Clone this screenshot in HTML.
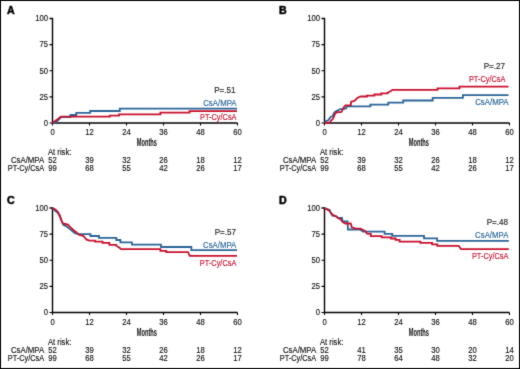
<!DOCTYPE html>
<html><head><meta charset="utf-8"><style>
html,body{margin:0;padding:0;background:#fff;}
body{width:520px;height:369px;overflow:hidden;}
svg{display:block;}
text{font-family:"Liberation Sans",sans-serif;}
</style></head><body>
<svg width="520" height="369" viewBox="0 0 520 369">
<defs><filter id="bl" color-interpolation-filters="sRGB" x="0" y="0" width="520" height="369" filterUnits="userSpaceOnUse"><feConvolveMatrix order="3" kernelMatrix="0.0200 0.0800 0.0200 0.0800 0.6000 0.0800 0.0200 0.0800 0.0200" edgeMode="duplicate"/></filter></defs>
<g filter="url(#bl)">
<rect x="0" y="0" width="520" height="369" fill="#fff"/>
<rect x="0.5" y="0.5" width="519" height="368" fill="none" stroke="#000" stroke-width="1"/>
<g>
<text transform="translate(7.00,14.20) scale(0.95,1)" font-size="11.2" font-weight="bold" fill="#000" stroke="#000" stroke-width="0.5">A</text>
<path d="M49.5,18.50H52.5V123.0H237.50" fill="none" stroke="#000" stroke-width="1.4"/>
<path d="M49.5,123.00H52.5M49.5,96.88H52.5M49.5,70.75H52.5M49.5,44.62H52.5M52.50,123.0V125.5M89.50,123.0V125.5M126.50,123.0V125.5M163.50,123.0V125.5M200.50,123.0V125.5M237.50,123.0V125.5" fill="none" stroke="#000" stroke-width="1.1"/>
<text transform="translate(47.90,125.80) scale(0.85,1)" font-size="9.0" text-anchor="end" fill="#111" stroke="#111" stroke-width="0.15">0</text>
<text transform="translate(47.90,99.67) scale(0.85,1)" font-size="9.0" text-anchor="end" fill="#111" stroke="#111" stroke-width="0.15">25</text>
<text transform="translate(47.90,73.55) scale(0.85,1)" font-size="9.0" text-anchor="end" fill="#111" stroke="#111" stroke-width="0.15">50</text>
<text transform="translate(47.90,47.42) scale(0.85,1)" font-size="9.0" text-anchor="end" fill="#111" stroke="#111" stroke-width="0.15">75</text>
<text transform="translate(47.90,21.30) scale(0.85,1)" font-size="9.0" text-anchor="end" fill="#111" stroke="#111" stroke-width="0.15">100</text>
<text transform="translate(52.50,134.70) scale(0.85,1)" font-size="9.0" text-anchor="middle" fill="#111" stroke="#111" stroke-width="0.15">0</text>
<text transform="translate(89.50,134.70) scale(0.85,1)" font-size="9.0" text-anchor="middle" fill="#111" stroke="#111" stroke-width="0.15">12</text>
<text transform="translate(126.50,134.70) scale(0.85,1)" font-size="9.0" text-anchor="middle" fill="#111" stroke="#111" stroke-width="0.15">24</text>
<text transform="translate(163.50,134.70) scale(0.85,1)" font-size="9.0" text-anchor="middle" fill="#111" stroke="#111" stroke-width="0.15">36</text>
<text transform="translate(200.50,134.70) scale(0.85,1)" font-size="9.0" text-anchor="middle" fill="#111" stroke="#111" stroke-width="0.15">48</text>
<text transform="translate(237.50,134.70) scale(0.85,1)" font-size="9.0" text-anchor="middle" fill="#111" stroke="#111" stroke-width="0.15">60</text>
<text x="136.80" y="145.90" font-size="10.0" font-weight="bold" fill="#111" stroke="#111" stroke-width="0.05" textLength="20.2" lengthAdjust="spacingAndGlyphs">Months</text>
<text transform="translate(48.00,154.80) scale(0.85,1)" font-size="9.0" fill="#111" stroke="#111" stroke-width="0.15">At risk:</text>
<text transform="translate(44.20,162.90) scale(0.87,1)" font-size="9.0" text-anchor="end" fill="#111" stroke="#111" stroke-width="0.15">CsA/MPA</text>
<text transform="translate(44.20,170.80) scale(0.82,1)" font-size="9.0" text-anchor="end" fill="#111" stroke="#111" stroke-width="0.15">PT-Cy/CsA</text>
<text transform="translate(52.50,162.90) scale(0.85,1)" font-size="9.0" text-anchor="middle" fill="#111" stroke="#111" stroke-width="0.15">52</text>
<text transform="translate(89.50,162.90) scale(0.85,1)" font-size="9.0" text-anchor="middle" fill="#111" stroke="#111" stroke-width="0.15">39</text>
<text transform="translate(126.50,162.90) scale(0.85,1)" font-size="9.0" text-anchor="middle" fill="#111" stroke="#111" stroke-width="0.15">32</text>
<text transform="translate(163.50,162.90) scale(0.85,1)" font-size="9.0" text-anchor="middle" fill="#111" stroke="#111" stroke-width="0.15">26</text>
<text transform="translate(200.50,162.90) scale(0.85,1)" font-size="9.0" text-anchor="middle" fill="#111" stroke="#111" stroke-width="0.15">18</text>
<text transform="translate(237.50,162.90) scale(0.85,1)" font-size="9.0" text-anchor="middle" fill="#111" stroke="#111" stroke-width="0.15">12</text>
<text transform="translate(52.50,170.80) scale(0.85,1)" font-size="9.0" text-anchor="middle" fill="#111" stroke="#111" stroke-width="0.15">99</text>
<text transform="translate(89.50,170.80) scale(0.85,1)" font-size="9.0" text-anchor="middle" fill="#111" stroke="#111" stroke-width="0.15">68</text>
<text transform="translate(126.50,170.80) scale(0.85,1)" font-size="9.0" text-anchor="middle" fill="#111" stroke="#111" stroke-width="0.15">55</text>
<text transform="translate(163.50,170.80) scale(0.85,1)" font-size="9.0" text-anchor="middle" fill="#111" stroke="#111" stroke-width="0.15">42</text>
<text transform="translate(200.50,170.80) scale(0.85,1)" font-size="9.0" text-anchor="middle" fill="#111" stroke="#111" stroke-width="0.15">26</text>
<text transform="translate(237.50,170.80) scale(0.85,1)" font-size="9.0" text-anchor="middle" fill="#111" stroke="#111" stroke-width="0.15">17</text>
<polyline points="52.5,123.0 55.6,122.7 61.2,117.0 70.5,117.0 70.5,115.0 76.3,115.0 76.3,112.8 90.2,112.8 90.2,111.0 119.8,111.0 119.8,108.7 237.0,108.7" fill="none" stroke="#2a6598" stroke-width="1.8" stroke-linejoin="miter"/>
<polyline points="52.5,123.0 61.0,116.7 109.8,116.7 109.8,115.6 119.0,115.6 119.0,114.4 160.4,114.4 160.4,112.7 189.5,112.7 189.5,111.2 237.0,111.2" fill="none" stroke="#c8102e" stroke-width="1.8" stroke-linejoin="miter"/>
<text transform="translate(235.50,92.60) scale(0.9,1)" font-size="9.0" text-anchor="end" fill="#222" stroke="#222" stroke-width="0.15">P=.51</text>
<text transform="translate(236.50,106.00) scale(0.87,1)" font-size="9.0" text-anchor="end" fill="#2a6598" stroke="#2a6598" stroke-width="0.15">CsA/MPA</text>
<text transform="translate(236.50,120.40) scale(0.82,1)" font-size="9.0" text-anchor="end" fill="#c8102e" stroke="#c8102e" stroke-width="0.15">PT-Cy/CsA</text>
</g>
<g>
<text transform="translate(279.00,14.20) scale(0.95,1)" font-size="11.2" font-weight="bold" fill="#000" stroke="#000" stroke-width="0.5">B</text>
<path d="M321.5,18.50H324.5V123.0H509.50" fill="none" stroke="#000" stroke-width="1.4"/>
<path d="M321.5,123.00H324.5M321.5,96.88H324.5M321.5,70.75H324.5M321.5,44.62H324.5M324.50,123.0V125.5M361.50,123.0V125.5M398.50,123.0V125.5M435.50,123.0V125.5M472.50,123.0V125.5M509.50,123.0V125.5" fill="none" stroke="#000" stroke-width="1.1"/>
<text transform="translate(319.90,125.80) scale(0.85,1)" font-size="9.0" text-anchor="end" fill="#111" stroke="#111" stroke-width="0.15">0</text>
<text transform="translate(319.90,99.67) scale(0.85,1)" font-size="9.0" text-anchor="end" fill="#111" stroke="#111" stroke-width="0.15">25</text>
<text transform="translate(319.90,73.55) scale(0.85,1)" font-size="9.0" text-anchor="end" fill="#111" stroke="#111" stroke-width="0.15">50</text>
<text transform="translate(319.90,47.42) scale(0.85,1)" font-size="9.0" text-anchor="end" fill="#111" stroke="#111" stroke-width="0.15">75</text>
<text transform="translate(319.90,21.30) scale(0.85,1)" font-size="9.0" text-anchor="end" fill="#111" stroke="#111" stroke-width="0.15">100</text>
<text transform="translate(324.50,134.70) scale(0.85,1)" font-size="9.0" text-anchor="middle" fill="#111" stroke="#111" stroke-width="0.15">0</text>
<text transform="translate(361.50,134.70) scale(0.85,1)" font-size="9.0" text-anchor="middle" fill="#111" stroke="#111" stroke-width="0.15">12</text>
<text transform="translate(398.50,134.70) scale(0.85,1)" font-size="9.0" text-anchor="middle" fill="#111" stroke="#111" stroke-width="0.15">24</text>
<text transform="translate(435.50,134.70) scale(0.85,1)" font-size="9.0" text-anchor="middle" fill="#111" stroke="#111" stroke-width="0.15">36</text>
<text transform="translate(472.50,134.70) scale(0.85,1)" font-size="9.0" text-anchor="middle" fill="#111" stroke="#111" stroke-width="0.15">48</text>
<text transform="translate(509.50,134.70) scale(0.85,1)" font-size="9.0" text-anchor="middle" fill="#111" stroke="#111" stroke-width="0.15">60</text>
<text x="408.80" y="145.90" font-size="10.0" font-weight="bold" fill="#111" stroke="#111" stroke-width="0.05" textLength="20.2" lengthAdjust="spacingAndGlyphs">Months</text>
<text transform="translate(320.00,154.80) scale(0.85,1)" font-size="9.0" fill="#111" stroke="#111" stroke-width="0.15">At risk:</text>
<text transform="translate(316.20,162.90) scale(0.87,1)" font-size="9.0" text-anchor="end" fill="#111" stroke="#111" stroke-width="0.15">CsA/MPA</text>
<text transform="translate(316.20,170.80) scale(0.82,1)" font-size="9.0" text-anchor="end" fill="#111" stroke="#111" stroke-width="0.15">PT-Cy/CsA</text>
<text transform="translate(324.50,162.90) scale(0.85,1)" font-size="9.0" text-anchor="middle" fill="#111" stroke="#111" stroke-width="0.15">52</text>
<text transform="translate(361.50,162.90) scale(0.85,1)" font-size="9.0" text-anchor="middle" fill="#111" stroke="#111" stroke-width="0.15">39</text>
<text transform="translate(398.50,162.90) scale(0.85,1)" font-size="9.0" text-anchor="middle" fill="#111" stroke="#111" stroke-width="0.15">32</text>
<text transform="translate(435.50,162.90) scale(0.85,1)" font-size="9.0" text-anchor="middle" fill="#111" stroke="#111" stroke-width="0.15">26</text>
<text transform="translate(472.50,162.90) scale(0.85,1)" font-size="9.0" text-anchor="middle" fill="#111" stroke="#111" stroke-width="0.15">18</text>
<text transform="translate(509.50,162.90) scale(0.85,1)" font-size="9.0" text-anchor="middle" fill="#111" stroke="#111" stroke-width="0.15">12</text>
<text transform="translate(324.50,170.80) scale(0.85,1)" font-size="9.0" text-anchor="middle" fill="#111" stroke="#111" stroke-width="0.15">99</text>
<text transform="translate(361.50,170.80) scale(0.85,1)" font-size="9.0" text-anchor="middle" fill="#111" stroke="#111" stroke-width="0.15">68</text>
<text transform="translate(398.50,170.80) scale(0.85,1)" font-size="9.0" text-anchor="middle" fill="#111" stroke="#111" stroke-width="0.15">55</text>
<text transform="translate(435.50,170.80) scale(0.85,1)" font-size="9.0" text-anchor="middle" fill="#111" stroke="#111" stroke-width="0.15">42</text>
<text transform="translate(472.50,170.80) scale(0.85,1)" font-size="9.0" text-anchor="middle" fill="#111" stroke="#111" stroke-width="0.15">26</text>
<text transform="translate(509.50,170.80) scale(0.85,1)" font-size="9.0" text-anchor="middle" fill="#111" stroke="#111" stroke-width="0.15">17</text>
<polyline points="324.5,123.0 326.0,121.0 328.0,120.5 329.5,118.4 331.0,116.7 332.5,116.3 334.2,112.5 336.6,110.8 338.0,110.5 340.0,109.1 344.0,108.8 346.0,108.5 347.0,106.4 370.4,106.4 370.4,104.6 388.3,104.6 388.3,102.6 403.2,102.6 403.2,100.5 432.7,100.5 432.7,97.9 462.9,97.9 462.9,95.2 508.5,95.2" fill="none" stroke="#2a6598" stroke-width="1.8" stroke-linejoin="miter"/>
<polyline points="324.5,123.0 330.0,122.5 331.0,120.5 333.2,118.6 334.0,116.0 335.2,113.5 336.9,112.2 341.0,112.2 342.0,111.0 343.7,107.4 345.4,105.5 350.8,105.2 351.2,101.7 353.7,101.2 355.4,100.0 357.7,97.7 360.6,96.5 366.9,96.5 366.9,95.6 374.4,95.6 374.4,94.5 381.3,94.5 381.3,93.3 387.7,93.3 387.7,92.5 390.6,91.3 392.3,89.8 437.5,89.8 437.5,88.4 459.5,88.4 459.5,86.7 508.5,86.7" fill="none" stroke="#c8102e" stroke-width="1.8" stroke-linejoin="miter"/>
<text transform="translate(505.00,68.80) scale(0.9,1)" font-size="9.0" text-anchor="end" fill="#222" stroke="#222" stroke-width="0.15">P=.27</text>
<text transform="translate(505.40,82.00) scale(0.82,1)" font-size="9.0" text-anchor="end" fill="#c8102e" stroke="#c8102e" stroke-width="0.15">PT-Cy/CsA</text>
<text transform="translate(508.50,105.00) scale(0.87,1)" font-size="9.0" text-anchor="end" fill="#2a6598" stroke="#2a6598" stroke-width="0.15">CsA/MPA</text>
</g>
<g>
<text transform="translate(7.00,204.20) scale(0.95,1)" font-size="11.2" font-weight="bold" fill="#000" stroke="#000" stroke-width="0.5">C</text>
<path d="M49.5,208.00H52.5V312.5H237.50" fill="none" stroke="#000" stroke-width="1.4"/>
<path d="M49.5,312.50H52.5M49.5,286.38H52.5M49.5,260.25H52.5M49.5,234.12H52.5M52.50,312.5V315.0M89.50,312.5V315.0M126.50,312.5V315.0M163.50,312.5V315.0M200.50,312.5V315.0M237.50,312.5V315.0" fill="none" stroke="#000" stroke-width="1.1"/>
<text transform="translate(47.90,315.30) scale(0.85,1)" font-size="9.0" text-anchor="end" fill="#111" stroke="#111" stroke-width="0.15">0</text>
<text transform="translate(47.90,289.18) scale(0.85,1)" font-size="9.0" text-anchor="end" fill="#111" stroke="#111" stroke-width="0.15">25</text>
<text transform="translate(47.90,263.05) scale(0.85,1)" font-size="9.0" text-anchor="end" fill="#111" stroke="#111" stroke-width="0.15">50</text>
<text transform="translate(47.90,236.93) scale(0.85,1)" font-size="9.0" text-anchor="end" fill="#111" stroke="#111" stroke-width="0.15">75</text>
<text transform="translate(47.90,210.80) scale(0.85,1)" font-size="9.0" text-anchor="end" fill="#111" stroke="#111" stroke-width="0.15">100</text>
<text transform="translate(52.50,324.70) scale(0.85,1)" font-size="9.0" text-anchor="middle" fill="#111" stroke="#111" stroke-width="0.15">0</text>
<text transform="translate(89.50,324.70) scale(0.85,1)" font-size="9.0" text-anchor="middle" fill="#111" stroke="#111" stroke-width="0.15">12</text>
<text transform="translate(126.50,324.70) scale(0.85,1)" font-size="9.0" text-anchor="middle" fill="#111" stroke="#111" stroke-width="0.15">24</text>
<text transform="translate(163.50,324.70) scale(0.85,1)" font-size="9.0" text-anchor="middle" fill="#111" stroke="#111" stroke-width="0.15">36</text>
<text transform="translate(200.50,324.70) scale(0.85,1)" font-size="9.0" text-anchor="middle" fill="#111" stroke="#111" stroke-width="0.15">48</text>
<text transform="translate(237.50,324.70) scale(0.85,1)" font-size="9.0" text-anchor="middle" fill="#111" stroke="#111" stroke-width="0.15">60</text>
<text x="136.80" y="335.90" font-size="10.0" font-weight="bold" fill="#111" stroke="#111" stroke-width="0.05" textLength="20.2" lengthAdjust="spacingAndGlyphs">Months</text>
<text transform="translate(48.00,344.80) scale(0.85,1)" font-size="9.0" fill="#111" stroke="#111" stroke-width="0.15">At risk:</text>
<text transform="translate(44.20,352.90) scale(0.87,1)" font-size="9.0" text-anchor="end" fill="#111" stroke="#111" stroke-width="0.15">CsA/MPA</text>
<text transform="translate(44.20,360.80) scale(0.82,1)" font-size="9.0" text-anchor="end" fill="#111" stroke="#111" stroke-width="0.15">PT-Cy/CsA</text>
<text transform="translate(52.50,352.90) scale(0.85,1)" font-size="9.0" text-anchor="middle" fill="#111" stroke="#111" stroke-width="0.15">52</text>
<text transform="translate(89.50,352.90) scale(0.85,1)" font-size="9.0" text-anchor="middle" fill="#111" stroke="#111" stroke-width="0.15">39</text>
<text transform="translate(126.50,352.90) scale(0.85,1)" font-size="9.0" text-anchor="middle" fill="#111" stroke="#111" stroke-width="0.15">32</text>
<text transform="translate(163.50,352.90) scale(0.85,1)" font-size="9.0" text-anchor="middle" fill="#111" stroke="#111" stroke-width="0.15">26</text>
<text transform="translate(200.50,352.90) scale(0.85,1)" font-size="9.0" text-anchor="middle" fill="#111" stroke="#111" stroke-width="0.15">18</text>
<text transform="translate(237.50,352.90) scale(0.85,1)" font-size="9.0" text-anchor="middle" fill="#111" stroke="#111" stroke-width="0.15">12</text>
<text transform="translate(52.50,360.80) scale(0.85,1)" font-size="9.0" text-anchor="middle" fill="#111" stroke="#111" stroke-width="0.15">99</text>
<text transform="translate(89.50,360.80) scale(0.85,1)" font-size="9.0" text-anchor="middle" fill="#111" stroke="#111" stroke-width="0.15">68</text>
<text transform="translate(126.50,360.80) scale(0.85,1)" font-size="9.0" text-anchor="middle" fill="#111" stroke="#111" stroke-width="0.15">55</text>
<text transform="translate(163.50,360.80) scale(0.85,1)" font-size="9.0" text-anchor="middle" fill="#111" stroke="#111" stroke-width="0.15">42</text>
<text transform="translate(200.50,360.80) scale(0.85,1)" font-size="9.0" text-anchor="middle" fill="#111" stroke="#111" stroke-width="0.15">26</text>
<text transform="translate(237.50,360.80) scale(0.85,1)" font-size="9.0" text-anchor="middle" fill="#111" stroke="#111" stroke-width="0.15">17</text>
<polyline points="52.5,208.0 54.9,210.5 58.0,213.0 60.3,217.6 62.0,222.0 63.6,225.1 66.3,226.2 69.0,228.4 71.7,230.6 74.9,233.3 78.2,234.2 90.4,234.2 90.4,236.0 99.0,236.0 99.0,237.9 116.3,237.9 116.3,240.0 120.4,240.0 120.4,242.3 131.9,242.3 131.9,244.6 161.0,244.6 161.0,247.0 191.3,247.0 191.3,250.1 237.0,250.1" fill="none" stroke="#2a6598" stroke-width="1.8" stroke-linejoin="miter"/>
<polyline points="52.5,208.0 55.4,209.4 57.6,211.6 59.8,215.4 61.4,220.3 62.8,223.5 65.0,224.0 67.9,224.6 70.0,226.8 73.3,230.0 76.6,232.4 79.3,234.9 83.5,236.0 86.3,239.4 89.2,240.6 95.0,240.6 95.0,241.7 102.5,241.7 102.5,242.9 109.4,242.9 109.4,244.8 116.3,244.8 116.3,245.8 119.2,247.5 121.0,249.2 160.4,249.2 160.4,250.8 166.2,250.8 166.2,252.2 188.0,252.2 189.8,255.9 237.0,255.9" fill="none" stroke="#c8102e" stroke-width="1.8" stroke-linejoin="miter"/>
<text transform="translate(236.00,234.50) scale(0.9,1)" font-size="9.0" text-anchor="end" fill="#222" stroke="#222" stroke-width="0.15">P=.57</text>
<text transform="translate(236.30,247.70) scale(0.87,1)" font-size="9.0" text-anchor="end" fill="#2a6598" stroke="#2a6598" stroke-width="0.15">CsA/MPA</text>
<text transform="translate(236.30,265.70) scale(0.82,1)" font-size="9.0" text-anchor="end" fill="#c8102e" stroke="#c8102e" stroke-width="0.15">PT-Cy/CsA</text>
</g>
<g>
<text transform="translate(279.00,204.20) scale(0.95,1)" font-size="11.2" font-weight="bold" fill="#000" stroke="#000" stroke-width="0.5">D</text>
<path d="M321.5,208.00H324.5V312.5H509.50" fill="none" stroke="#000" stroke-width="1.4"/>
<path d="M321.5,312.50H324.5M321.5,286.38H324.5M321.5,260.25H324.5M321.5,234.12H324.5M324.50,312.5V315.0M361.50,312.5V315.0M398.50,312.5V315.0M435.50,312.5V315.0M472.50,312.5V315.0M509.50,312.5V315.0" fill="none" stroke="#000" stroke-width="1.1"/>
<text transform="translate(319.90,315.30) scale(0.85,1)" font-size="9.0" text-anchor="end" fill="#111" stroke="#111" stroke-width="0.15">0</text>
<text transform="translate(319.90,289.18) scale(0.85,1)" font-size="9.0" text-anchor="end" fill="#111" stroke="#111" stroke-width="0.15">25</text>
<text transform="translate(319.90,263.05) scale(0.85,1)" font-size="9.0" text-anchor="end" fill="#111" stroke="#111" stroke-width="0.15">50</text>
<text transform="translate(319.90,236.93) scale(0.85,1)" font-size="9.0" text-anchor="end" fill="#111" stroke="#111" stroke-width="0.15">75</text>
<text transform="translate(319.90,210.80) scale(0.85,1)" font-size="9.0" text-anchor="end" fill="#111" stroke="#111" stroke-width="0.15">100</text>
<text transform="translate(324.50,324.70) scale(0.85,1)" font-size="9.0" text-anchor="middle" fill="#111" stroke="#111" stroke-width="0.15">0</text>
<text transform="translate(361.50,324.70) scale(0.85,1)" font-size="9.0" text-anchor="middle" fill="#111" stroke="#111" stroke-width="0.15">12</text>
<text transform="translate(398.50,324.70) scale(0.85,1)" font-size="9.0" text-anchor="middle" fill="#111" stroke="#111" stroke-width="0.15">24</text>
<text transform="translate(435.50,324.70) scale(0.85,1)" font-size="9.0" text-anchor="middle" fill="#111" stroke="#111" stroke-width="0.15">36</text>
<text transform="translate(472.50,324.70) scale(0.85,1)" font-size="9.0" text-anchor="middle" fill="#111" stroke="#111" stroke-width="0.15">48</text>
<text transform="translate(509.50,324.70) scale(0.85,1)" font-size="9.0" text-anchor="middle" fill="#111" stroke="#111" stroke-width="0.15">60</text>
<text x="408.80" y="335.90" font-size="10.0" font-weight="bold" fill="#111" stroke="#111" stroke-width="0.05" textLength="20.2" lengthAdjust="spacingAndGlyphs">Months</text>
<text transform="translate(320.00,344.80) scale(0.85,1)" font-size="9.0" fill="#111" stroke="#111" stroke-width="0.15">At risk:</text>
<text transform="translate(316.20,352.90) scale(0.87,1)" font-size="9.0" text-anchor="end" fill="#111" stroke="#111" stroke-width="0.15">CsA/MPA</text>
<text transform="translate(316.20,360.80) scale(0.82,1)" font-size="9.0" text-anchor="end" fill="#111" stroke="#111" stroke-width="0.15">PT-Cy/CsA</text>
<text transform="translate(324.50,352.90) scale(0.85,1)" font-size="9.0" text-anchor="middle" fill="#111" stroke="#111" stroke-width="0.15">52</text>
<text transform="translate(361.50,352.90) scale(0.85,1)" font-size="9.0" text-anchor="middle" fill="#111" stroke="#111" stroke-width="0.15">41</text>
<text transform="translate(398.50,352.90) scale(0.85,1)" font-size="9.0" text-anchor="middle" fill="#111" stroke="#111" stroke-width="0.15">35</text>
<text transform="translate(435.50,352.90) scale(0.85,1)" font-size="9.0" text-anchor="middle" fill="#111" stroke="#111" stroke-width="0.15">30</text>
<text transform="translate(472.50,352.90) scale(0.85,1)" font-size="9.0" text-anchor="middle" fill="#111" stroke="#111" stroke-width="0.15">20</text>
<text transform="translate(509.50,352.90) scale(0.85,1)" font-size="9.0" text-anchor="middle" fill="#111" stroke="#111" stroke-width="0.15">14</text>
<text transform="translate(324.50,360.80) scale(0.85,1)" font-size="9.0" text-anchor="middle" fill="#111" stroke="#111" stroke-width="0.15">99</text>
<text transform="translate(361.50,360.80) scale(0.85,1)" font-size="9.0" text-anchor="middle" fill="#111" stroke="#111" stroke-width="0.15">78</text>
<text transform="translate(398.50,360.80) scale(0.85,1)" font-size="9.0" text-anchor="middle" fill="#111" stroke="#111" stroke-width="0.15">64</text>
<text transform="translate(435.50,360.80) scale(0.85,1)" font-size="9.0" text-anchor="middle" fill="#111" stroke="#111" stroke-width="0.15">48</text>
<text transform="translate(472.50,360.80) scale(0.85,1)" font-size="9.0" text-anchor="middle" fill="#111" stroke="#111" stroke-width="0.15">32</text>
<text transform="translate(509.50,360.80) scale(0.85,1)" font-size="9.0" text-anchor="middle" fill="#111" stroke="#111" stroke-width="0.15">20</text>
<polyline points="324.5,208.0 329.6,210.0 330.7,212.7 332.3,215.6 336.1,216.0 338.0,218.0 342.0,218.0 342.6,221.5 347.5,221.5 348.0,229.5 360.0,229.5 362.0,231.0 363.2,231.6 384.6,231.6 384.6,233.8 392.3,233.8 392.3,235.9 424.0,235.9 424.0,238.3 437.1,238.3 437.1,240.8 508.8,240.8" fill="none" stroke="#2a6598" stroke-width="1.8" stroke-linejoin="miter"/>
<polyline points="324.5,208.0 326.9,209.4 329.0,210.5 331.2,213.2 332.8,214.8 336.1,216.5 339.0,218.5 341.0,219.7 343.1,222.4 345.3,223.5 350.7,223.5 351.8,227.3 355.6,228.7 360.5,228.7 362.7,229.8 365.4,231.1 367.0,233.6 370.8,233.8 370.8,236.2 381.7,236.2 381.7,237.3 391.0,237.3 391.0,238.5 395.6,238.5 395.6,239.8 399.6,239.8 399.6,241.7 420.4,241.7 420.4,242.9 432.1,242.9 432.1,244.3 437.3,244.3 437.3,245.8 458.7,245.8 461.0,249.2 508.8,249.2" fill="none" stroke="#c8102e" stroke-width="1.8" stroke-linejoin="miter"/>
<text transform="translate(508.00,224.70) scale(0.9,1)" font-size="9.0" text-anchor="end" fill="#222" stroke="#222" stroke-width="0.15">P=.48</text>
<text transform="translate(508.40,237.90) scale(0.87,1)" font-size="9.0" text-anchor="end" fill="#2a6598" stroke="#2a6598" stroke-width="0.15">CsA/MPA</text>
<text transform="translate(508.40,258.90) scale(0.82,1)" font-size="9.0" text-anchor="end" fill="#c8102e" stroke="#c8102e" stroke-width="0.15">PT-Cy/CsA</text>
</g>
</g>
</svg>
</body></html>
